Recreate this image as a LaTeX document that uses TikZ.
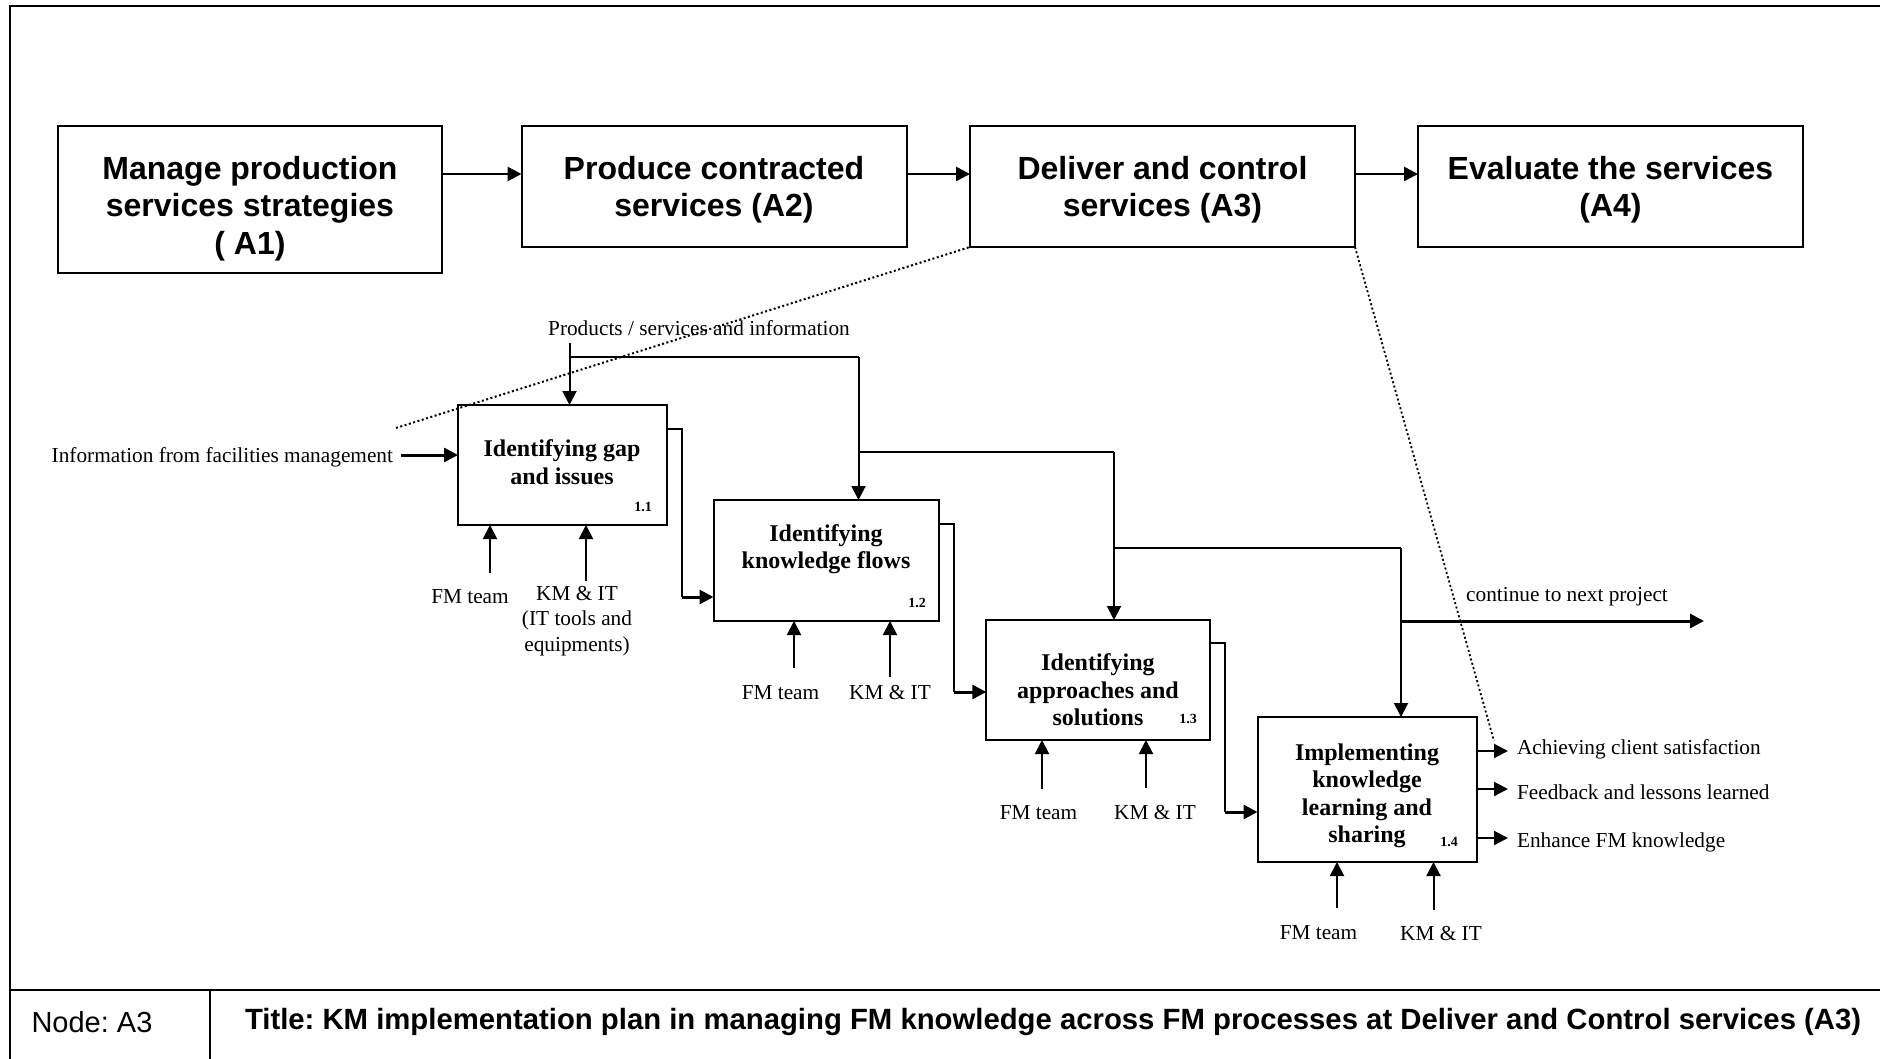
\documentclass[tikz,border=0pt]{standalone}
\usepackage{fontspec}
\setmainfont{Liberation Serif}
\setsansfont{Liberation Sans}
\usetikzlibrary{arrows.meta}
\frenchspacing
\begin{document}
\begin{tikzpicture}[x=1pt,y=-1pt,
  every node/.style={inner sep=0pt, outer sep=0pt},
  topbox/.style={draw, line width=2pt,
    minimum width=385pt, minimum height=121pt},
  toptext/.style={align=center,
    font=\sffamily\bfseries\fontsize{32}{37.5}\selectfont},
  actbox/.style={draw, line width=2pt},
  acttext/.style={align=center, font=\bfseries\fontsize{24}{27.5}\selectfont},
  lbl/.style={align=center, font=\fontsize{21.3}{25.5}\selectfont},
  num/.style={font=\bfseries\fontsize{14}{16}\selectfont},
  tip/.style={-{Triangle[length=14pt,width=14pt]}},
  link/.style={line width=2pt},
  flow/.style={link, tip},
  heavy/.style={line width=3pt, tip},
  dots/.style={line width=2pt, dash pattern=on 2pt off 2.5pt},
  frame/.style={line width=2.5pt}
]
\useasboundingbox (0,0) rectangle (1880,1059);

% sheet frame and footer
\draw[frame] (1880,6) -- (10,6) -- (10,1059);
\draw[frame] (10,990) -- (1880,990);
\draw[line width=2pt] (210,990) -- (210,1059);
\node[font=\sffamily\fontsize{29}{33}\selectfont] (nodeid) at (92,1022) {Node: A3};
\node[anchor=west, font=\sffamily\bfseries\fontsize{29.3}{33}\selectfont] (title) at (245,1022)
  {Title: KM implementation plan in managing FM knowledge across FM processes at Deliver and Control services (A3)};

% parent level activities
\node[topbox, minimum width=384.5pt, minimum height=147pt] (A1) at (250,199.5) {};
\node[topbox] (A2) at (714,186.5) {};
\node[topbox] (A3) at (1162.5,186.5) {};
\node[topbox] (A4) at (1610.5,186.5) {};
\node[toptext] (A1t) at (250,208.5) {Manage production\\services strategies\\( A1)};
\node[toptext] (A2t) at (714,189.5) {Produce contracted\\services (A2)};
\node[toptext] (A3t) at (1162.5,189.5) {Deliver and control\\services (A3)};
\node[toptext] (A4t) at (1610.5,189.5) {Evaluate the services\\(A4)};

\coordinate (ya) at (0,174);
\draw[link, line width=2.5pt, tip] (A1.east |- ya) -- (A2.west |- ya);
\draw[link, line width=2.5pt, tip] (A2.east |- ya) -- (A3.west |- ya);
\draw[link, line width=2.5pt, tip] (A3.east |- ya) -- (A4.west |- ya);

% decomposition of A3
\node[actbox, minimum width=209pt, minimum height=120pt] (b11) at (562.5,465) {};
\node[actbox, minimum width=225pt, minimum height=121pt] (b12) at (826,560.5) {};
\node[actbox, minimum width=223.5pt, minimum height=120pt] (b13) at (1098,680) {};
\node[actbox, minimum width=219pt, minimum height=145pt] (b14) at (1367,789.5) {};

\node[acttext] (t11) at (562,462) {Identifying gap\\and issues};
\node[acttext] (t12) at (826,549) {Identifying\\knowledge flows};
\node[acttext] (t13) at (1098,690) {Identifying\\approaches and\\solutions};
\node[acttext] (t14) at (1367,796) {Implementing\\knowledge\\learning and\\sharing};

\node[num] (n11) at (643,507) {1.1};
\node[num] (n12) at (917,603) {1.2};
\node[num] (n13) at (1188,719) {1.3};
\node[num] (n14) at (1449,842) {1.4};

% dotted decomposition guides
\coordinate (d1) at (396,428);
\coordinate (d2) at (1494,741);
\draw[dots] (d1) -- (A3.south west);
\draw[dots, line width=1.8pt] (A3.south east) -- (d2);

% control: products / services and information
\node[lbl] (prod) at (699,328) {Products / services and information};
\coordinate (pin) at (569.5,343);
\coordinate (j2) at (858.5,357);
\coordinate (j3) at (858.5,452);
\coordinate (j4) at (1114,452);
\coordinate (j5) at (1114,548);
\coordinate (j6) at (1401,548);
\coordinate (j7) at (1401,621);
\coordinate (next) at (1704,621);
\draw[flow] (pin) -- (pin |- b11.north);
\draw[link] (pin |- j2) -- (j2);
\draw[flow] (j2) -- (j2 |- b12.north);
\draw[link] (j3) -- (j4);
\draw[flow] (j4) -- (j4 |- b13.north);
\draw[link] (j5) -- (j6);
\draw[flow] (j6) -- (j6 |- b14.north);
\draw[heavy] (j7) -- (next);
\node[lbl] (cont) at (1567,597) {continue to next project};

% input
\node[lbl, anchor=east] (info) at (393,457) {Information from facilities management};
\coordinate (inp) at (400.5,455);
\draw[heavy] (inp) -- (inp -| b11.west);

% outputs feeding the next activity
\coordinate (e11) at (682,429);   \coordinate (f11) at (682,597);
\coordinate (e12) at (954,524);   \coordinate (f12) at (954,692);
\coordinate (e13) at (1224.5,643); \coordinate (f13) at (1224.5,812);
\draw[link] (b11.east |- e11) -- (e11) -- (f11);
\draw[heavy] (f11) -- (f11 -| b12.west);
\draw[link] (b12.east |- e12) -- (e12) -- (f12);
\draw[heavy] (f12) -- (f12 -| b13.west);
\draw[link] (b13.east |- e13) -- (e13) -- (f13);
\draw[heavy] (f13) -- (f13 -| b14.west);

% final outputs
\coordinate (o1) at (1508,751);
\coordinate (o2) at (1508,789);
\coordinate (o3) at (1508,838);
\draw[flow] (b14.east |- o1) -- (o1);
\draw[flow] (b14.east |- o2) -- (o2);
\draw[flow] (b14.east |- o3) -- (o3);
\node[lbl, anchor=west] (out1) at (1517,749) {Achieving client satisfaction};
\node[lbl, anchor=west] (out2) at (1517,792) {Feedback and lessons learned};
\node[lbl, anchor=west] (out3) at (1517,842) {Enhance FM knowledge};

% mechanisms
\coordinate (m11a) at (490,573);  \coordinate (m11b) at (586,581);
\coordinate (m12a) at (794,668);  \coordinate (m12b) at (890,677);
\coordinate (m13a) at (1042,789); \coordinate (m13b) at (1146,788);
\coordinate (m14a) at (1337,908); \coordinate (m14b) at (1433.5,910);
\draw[flow] (m11a) -- (m11a |- b11.south);
\draw[flow] (m11b) -- (m11b |- b11.south);
\draw[flow] (m12a) -- (m12a |- b12.south);
\draw[flow] (m12b) -- (m12b |- b12.south);
\draw[flow] (m13a) -- (m13a |- b13.south);
\draw[flow] (m13b) -- (m13b |- b13.south);
\draw[flow] (m14a) -- (m14a |- b14.south);
\draw[flow] (m14b) -- (m14b |- b14.south);

\node[lbl] (fm11) at (470,597) {FM team};
\node[lbl, anchor=north] (km11) at (577,586) {KM \& IT\\(IT tools and\\equipments)};
\node[lbl] (fm12) at (780.5,693) {FM team};
\node[lbl] (km12) at (890,693) {KM \& IT};
\node[lbl] (fm13) at (1038.5,813) {FM team};
\node[lbl] (km13) at (1155,813) {KM \& IT};
\node[lbl] (fm14) at (1318.5,933) {FM team};
\node[lbl] (km14) at (1441,934) {KM \& IT};
\end{tikzpicture}
\end{document}
